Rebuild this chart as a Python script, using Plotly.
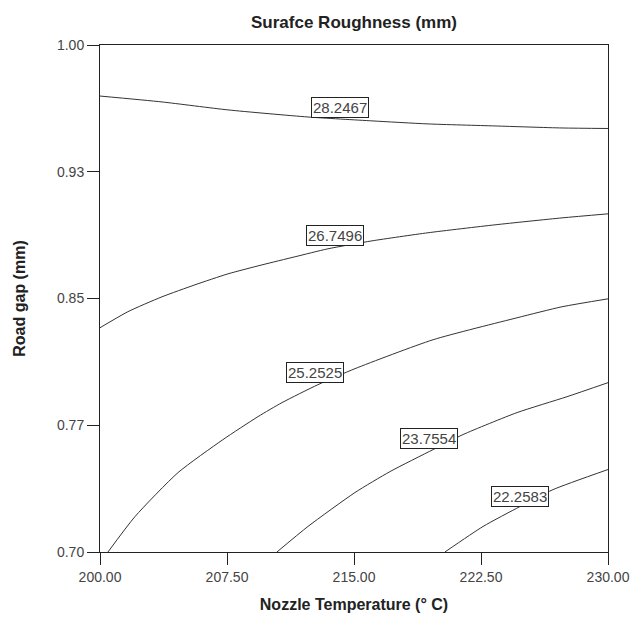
import plotly.graph_objects as go

# Contour levels (labels) and traced contour lines (Nozzle Temperature, Road gap)
levels = ["28.2467", "26.7496", "25.2525", "23.7554", "22.2583"]

temp_a = [200.0, 203.66, 207.56, 212.28, 216.06, 219.37, 223.33, 227.28, 230.0]
gap_a = [0.9698, 0.9663, 0.9616, 0.9574, 0.9551, 0.9533, 0.9521, 0.9509, 0.9506]

temp_b = [200.0, 201.65, 203.66, 205.61, 207.56, 209.57, 211.52, 213.46, 216.06, 219.37, 223.33, 227.28, 230.0]
gap_b = [0.8327, 0.8422, 0.8510, 0.8581, 0.8646, 0.8699, 0.8747, 0.8794, 0.8841, 0.8889, 0.8936, 0.8977, 0.9001]

temp_c = [200.47, 202.07, 204.61, 207.26, 209.33, 210.75, 212.87, 215.06, 219.67, 224.63, 227.28, 230.0]
gap_c = [0.7000, 0.7210, 0.7470, 0.7665, 0.7801, 0.7884, 0.7990, 0.8085, 0.8256, 0.8386, 0.8451, 0.8498]

temp_d = [210.45, 212.28, 215.06, 217.13, 219.67, 221.44, 224.63, 227.58, 230.0]
gap_d = [0.7000, 0.7151, 0.7352, 0.7476, 0.7606, 0.7695, 0.7825, 0.7919, 0.8002]

temp_e = [220.37, 222.62, 224.80, 226.75, 230.0]
gap_e = [0.7000, 0.7151, 0.7269, 0.7369, 0.7488]

# label positions (center of each label box)
label_temp = [214.17, 213.90, 212.70, 219.40, 224.78]
label_gap = [0.9633, 0.8874, 0.8064, 0.7671, 0.7331]

x_tickvals = [200.0, 207.5, 215.0, 222.5, 230.0]
x_ticktext = ["200.00", "207.50", "215.00", "222.50", "230.00"]
y_tickvals = [0.70, 0.775, 0.85, 0.925, 1.00]
y_ticktext = ["0.70", "0.77", "0.85", "0.93", "1.00"]

lines = [(temp_a, gap_a), (temp_b, gap_b), (temp_c, gap_c), (temp_d, gap_d), (temp_e, gap_e)]

fig = go.Figure()
for (tx, gy), lev in zip(lines, levels):
    fig.add_trace(go.Scatter(
        x=tx, y=gy, mode="lines", name=lev,
        line=dict(color="#333333", width=1, shape="spline", smoothing=0.6),
        hoverinfo="skip", showlegend=False,
    ))

for lev, lx, ly in zip(levels, label_temp, label_gap):
    fig.add_annotation(
        x=lx, y=ly, xref="x", yref="y", text=lev, showarrow=False,
        font=dict(family="Liberation Sans, Arial, sans-serif", size=15, color="#444444"),
        bgcolor="white", bordercolor="#222222", borderwidth=1, borderpad=1,
    )

fig.update_layout(
    width=635, height=619,
    margin=dict(l=100, r=27, t=45, b=67, autoexpand=False),
    paper_bgcolor="white", plot_bgcolor="white",
    font=dict(family="Liberation Sans, Arial, sans-serif", color="#222222"),
    title=dict(
        text="<b>Surafce Roughness (mm)</b>",
        x=0.5, xref="paper", xanchor="center",
        y=1 - 22 / 619, yref="container", yanchor="middle",
        font=dict(size=17, color="#222222"),
    ),
)

fig.update_xaxes(
    range=[200, 230], tickvals=x_tickvals, ticktext=x_ticktext,
    showgrid=False, zeroline=False, automargin=False,
    showline=True, linecolor="#222222", linewidth=1, mirror=True,
    ticks="outside", ticklen=12, tickcolor="#222222", tickwidth=1,
    tickfont=dict(size=14, color="#444444"),
    title=dict(text="<b>Nozzle Temperature (° C)</b>", font=dict(size=16, color="#222222"), standoff=15),
)
fig.update_yaxes(
    range=[0.70, 1.00], tickvals=y_tickvals, ticktext=y_ticktext,
    showgrid=False, zeroline=False, automargin=False,
    showline=True, linecolor="#222222", linewidth=1, mirror=True,
    ticks="outside", ticklen=12, tickcolor="#222222", tickwidth=1,
    tickfont=dict(size=14, color="#444444"),
    title=dict(text="<b>Road gap (mm)</b>", font=dict(size=16, color="#222222"), standoff=27),
)

fig.write_html("out.html")
